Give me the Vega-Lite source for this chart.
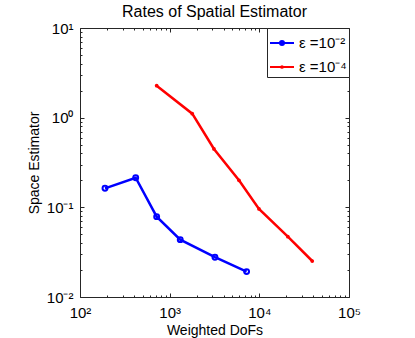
{
  "$schema": "https://vega.github.io/schema/vega-lite/v6.json",
  "width": 269,
  "height": 269,
  "autosize": {"type": "none"},
  "padding": {"left": 80, "top": 28, "right": 66, "bottom": 41},
  "background": "white",
  "title": {"text": "Rates of Spatial Estimator", "fontSize": 16, "font": "Liberation Sans", "fontWeight": "normal", "offset": 1, "color": "#000"},
  "config": {
    "view": {"stroke": "#262626", "strokeWidth": 1},
    "axis": {"grid": false, "domain": false, "labelFont": "Liberation Sans", "titleFont": "Liberation Sans", "labelFontSize": 15, "titleFontSize": 14, "titleFontWeight": "normal", "labelColor": "#000", "titleColor": "#000", "tickColor": "#262626"}
  },
  "data": {"values": [
    {"dofs": 190, "est": 0.163, "series": "ε =10⁻²"},
    {"dofs": 418, "est": 0.214, "series": "ε =10⁻²"},
    {"dofs": 716, "est": 0.0787, "series": "ε =10⁻²"},
    {"dofs": 1312, "est": 0.0436, "series": "ε =10⁻²"},
    {"dofs": 3200, "est": 0.0278, "series": "ε =10⁻²"},
    {"dofs": 7210, "est": 0.0192, "series": "ε =10⁻²"},
    {"dofs": 716, "est": 2.27, "series": "ε =10⁻⁴"},
    {"dofs": 1786, "est": 1.108, "series": "ε =10⁻⁴"},
    {"dofs": 3120, "est": 0.448, "series": "ε =10⁻⁴"},
    {"dofs": 5930, "est": 0.2003, "series": "ε =10⁻⁴"},
    {"dofs": 9910, "est": 0.096, "series": "ε =10⁻⁴"},
    {"dofs": 20800, "est": 0.0471, "series": "ε =10⁻⁴"},
    {"dofs": 38900, "est": 0.0252, "series": "ε =10⁻⁴"}
  ]},
  "layer": [
    {
      "mark": {"type": "line", "strokeWidth": 2.5, "clip": true},
      "encoding": {
        "x": {"field": "dofs", "type": "quantitative", "scale": {"type": "log", "domain": [100, 100000], "nice": false},
          "axis": {"orient": "bottom", "values": [100, 1000, 10000, 100000], "ticks": false, "labelFlush": false, "labelPadding": 8, "titlePadding": 3, "title": "Weighted DoFs",
            "labelExpr": "datum.value == 100 ? '10²' : datum.value == 1000 ? '10³' : datum.value == 10000 ? '10⁴' : '10⁵'"}},
        "y": {"field": "est", "type": "quantitative", "scale": {"type": "log", "domain": [0.01, 10], "nice": false},
          "axis": {"orient": "left", "values": [0.01, 0.1, 1, 10], "ticks": false, "labelFlush": false, "labelPadding": 7, "titlePadding": 5, "title": "Space Estimator",
            "labelExpr": "datum.value == 0.01 ? '10⁻²' : datum.value == 0.1 ? '10⁻¹' : datum.value == 1 ? '10⁰' : '10¹'"}},
        "color": {"field": "series", "type": "nominal",
          "scale": {"domain": ["ε =10⁻²", "ε =10⁻⁴"], "range": ["#0000ff", "#ff0000"]},
          "legend": {"title": null, "orient": "top-right", "offset": 0, "strokeColor": "#262626", "fillColor": "white", "padding": 2,
            "symbolSize": 576, "symbolType": "stroke", "symbolStrokeWidth": 2, "labelFont": "Liberation Sans", "labelFontSize": 15, "labelOffset": 4, "rowPadding": 3, "labelColor": "#000",
            "encode": {"symbols": {"update": {
              "shape": {"signal": "datum.value == 'ε =10⁻²' ? 'M-1,0H1M-0.17,0A0.17,0.17,0,1,0,0.17,0A0.17,0.17,0,1,0,-0.17,0' : 'M-1,0H1M-0.07,0A0.07,0.07,0,1,0,0.07,0A0.07,0.07,0,1,0,-0.07,0'"},
              "fill": {"scale": "color", "field": "value"},
              "stroke": {"scale": "color", "field": "value"},
              "strokeWidth": {"value": 2},
              "opacity": {"value": 1}
            }}}}
        }
      }
    },
    {
      "transform": [{"filter": "datum.series == 'ε =10⁻²'"}],
      "mark": {"type": "point", "filled": false, "strokeWidth": 2, "size": 24, "opacity": 1},
      "encoding": {
        "x": {"field": "dofs", "type": "quantitative",
          "axis": {"orient": "bottom", "labels": false, "title": null, "values": [100,200,300,400,500,600,700,800,900,1000,2000,3000,4000,5000,6000,7000,8000,9000,10000,20000,30000,40000,50000,60000,70000,80000,90000,100000],
            "tickSize": {"condition": {"test": "abs(log(datum.value)/LN10 - round(log(datum.value)/LN10)) < 0.000001", "value": -4}, "value": -2}}},
        "y": {"field": "est", "type": "quantitative",
          "axis": {"orient": "left", "labels": false, "title": null, "values": [0.01,0.02,0.03,0.04,0.05,0.06,0.07,0.08,0.09,0.1,0.2,0.3,0.4,0.5,0.6,0.7,0.8,0.9,1,2,3,4,5,6,7,8,9,10],
            "tickSize": {"condition": {"test": "abs(log(datum.value)/LN10 - round(log(datum.value)/LN10)) < 0.000001", "value": -4}, "value": -2}}},
        "color": {"field": "series", "type": "nominal"}
      }
    },
    {
      "transform": [{"filter": "datum.series == 'ε =10⁻⁴'"}],
      "mark": {"type": "point", "filled": true, "size": 14, "opacity": 1},
      "encoding": {
        "x": {"field": "dofs", "type": "quantitative",
          "axis": {"orient": "top", "labels": false, "title": null, "values": [100,200,300,400,500,600,700,800,900,1000,2000,3000,4000,5000,6000,7000,8000,9000,10000,20000,30000,40000,50000,60000,70000,80000,90000,100000],
            "tickSize": {"condition": {"test": "abs(log(datum.value)/LN10 - round(log(datum.value)/LN10)) < 0.000001", "value": -4}, "value": -2}}},
        "y": {"field": "est", "type": "quantitative",
          "axis": {"orient": "right", "labels": false, "title": null, "values": [0.01,0.02,0.03,0.04,0.05,0.06,0.07,0.08,0.09,0.1,0.2,0.3,0.4,0.5,0.6,0.7,0.8,0.9,1,2,3,4,5,6,7,8,9,10],
            "tickSize": {"condition": {"test": "abs(log(datum.value)/LN10 - round(log(datum.value)/LN10)) < 0.000001", "value": -4}, "value": -2}}},
        "color": {"field": "series", "type": "nominal"}
      }
    }
  ],
  "resolve": {"axis": {"x": "independent", "y": "independent"}}
}
